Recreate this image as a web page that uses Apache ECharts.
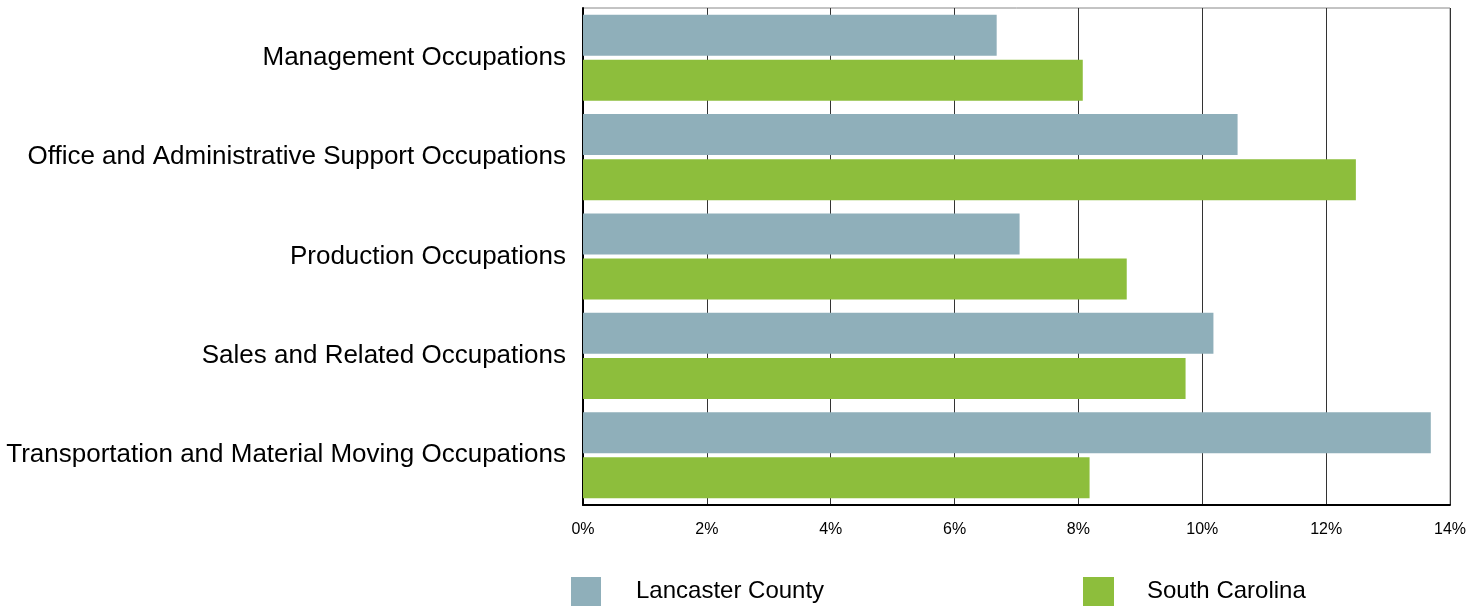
<!DOCTYPE html>
<html>
<head>
<meta charset="utf-8">
<script src="https://cdn.jsdelivr.net/npm/echarts@6/dist/echarts.min.js"></script>
<style>
html,body{margin:0;padding:0;background:#fff;}
#chart{width:1484px;height:606px;}
</style>
</head>
<body>
<div id="chart"></div>
<script>
const categories = [
  'Management Occupations',
  'Office and Administrative Support Occupations',
  'Production Occupations',
  'Sales and Related Occupations',
  'Transportation and Material Moving Occupations'
];
const lancaster = [6.68, 10.57, 7.05, 10.18, 13.69];
const southCarolina = [8.07, 12.48, 8.78, 9.73, 8.18];
const xTicks = [0, 2, 4, 6, 8, 10, 12, 14];

const chart = echarts.init(document.getElementById('chart'));
const font = '"Liberation Sans", Arial, sans-serif';
chart.setOption({
  animation: false,
  grid: {left: 583, right: 34, top: 8, bottom: 101, show: true, borderColor: '#888', borderWidth: 1},
  legend: [
    {data: ['Lancaster County'], left: 571, top: 577, padding: 0, icon: 'rect', itemWidth: 30, itemHeight: 29, itemGap: 0,
     textStyle: {fontFamily: font, fontSize: 24, color: '#000', padding: [4, 0, 0, 30]}},
    {data: ['South Carolina'], left: 1083, top: 577, padding: 0, icon: 'rect', itemWidth: 31, itemHeight: 29, itemGap: 0,
     textStyle: {fontFamily: font, fontSize: 24, color: '#000', padding: [4, 0, 0, 28]}}
  ],
  xAxis: {
    type: 'value', min: 0, max: 14, interval: 2,
    axisLine: {show: true, lineStyle: {color: '#000', width: 2}},
    axisTick: {show: false},
    splitLine: {show: true, lineStyle: {color: '#333', width: 1}},
    axisLabel: {fontFamily: font, fontSize: 16, color: '#000', margin: 17,
      formatter: v => xTicks.includes(v) ? v + '%' : ''}
  },
  yAxis: {
    type: 'category', data: categories, inverse: true,
    axisLine: {show: true, lineStyle: {color: '#000', width: 2}},
    axisTick: {show: false},
    axisLabel: {fontFamily: font, fontSize: 26, color: '#000', margin: 17, padding: [8, 0, 0, 0]}
  },
  series: [
    {name: 'Lancaster County', type: 'bar', data: lancaster, barWidth: 41, barGap: '10%',
     itemStyle: {color: '#8FAFBA'}},
    {name: 'South Carolina', type: 'bar', data: southCarolina, barWidth: 41, barGap: '10%',
     itemStyle: {color: '#8DBE3C'}}
  ]
});
</script>
</body>
</html>
